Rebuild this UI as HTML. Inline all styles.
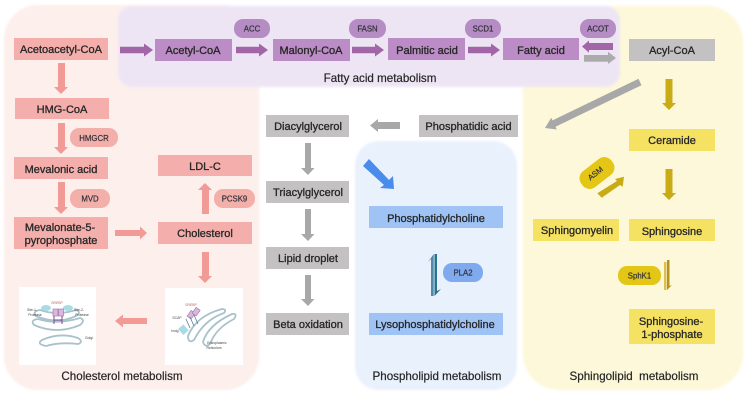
<!DOCTYPE html>
<html><head><meta charset="utf-8"><style>
html,body{margin:0;padding:0;background:#fff;width:750px;height:400px;overflow:hidden}
svg{display:block}
text{font-family:"Liberation Sans",sans-serif;fill:#262626;text-anchor:middle;font-size:11px;stroke:#262626;stroke-width:.3px}
.t{font-size:11.6px;stroke-width:.2px}
.p{font-size:7.8px;fill:#33303a;stroke:#33303a;stroke-width:.2px}
.s{font-size:3.4px;stroke:none;fill:#444}
</style></head><body>
<svg width="750" height="400" viewBox="0 0 750 400" xmlns="http://www.w3.org/2000/svg">
<defs><filter id="b" x="-2%" y="-2%" width="104%" height="104%"><feGaussianBlur stdDeviation="0.35"/></filter>
<filter id="b2" x="-5%" y="-5%" width="110%" height="110%"><feGaussianBlur stdDeviation="1.2"/></filter></defs>
<g filter="url(#b2)">
<rect x="4" y="5" width="255" height="385" rx="34" fill="#fcefec"/>
<rect x="523" y="6" width="220" height="384" rx="36" fill="#fdf8d9"/>
<rect x="355" y="141" width="162" height="249" rx="24" fill="#e9f1fd"/>
<rect x="118" y="6" width="502" height="81" rx="14" fill="#eee5f4"/>
</g>
<g filter="url(#b)">
<!-- pink boxes -->
<g fill="#f4aeab">
<rect x="14" y="38" width="94" height="22"/><rect x="15" y="98" width="94" height="21"/>
<rect x="14" y="157" width="94" height="22"/><rect x="14" y="217" width="94" height="32"/>
<rect x="158" y="155" width="94" height="21"/><rect x="158" y="222" width="94" height="22"/>
</g>
<!-- purple boxes -->
<g fill="#bb8cc6">
<rect x="155" y="39" width="77" height="22"/><rect x="273" y="39" width="77" height="22"/>
<rect x="388" y="38" width="77" height="22"/><rect x="503" y="38" width="76" height="22"/>
</g>
<!-- grey boxes -->
<g fill="#c3c1c2">
<rect x="629" y="39" width="86" height="22"/><rect x="266" y="115" width="83" height="22"/>
<rect x="266" y="181" width="83" height="22"/><rect x="266" y="247" width="83" height="22"/>
<rect x="266" y="313" width="83" height="22"/><rect x="419" y="115" width="99" height="22"/>
</g>
<!-- yellow boxes -->
<g fill="#f6e262">
<rect x="629" y="129" width="86" height="22"/><rect x="533" y="219" width="86" height="22"/>
<rect x="629" y="219" width="86" height="22"/><rect x="629" y="309" width="86" height="35"/>
</g>
<!-- blue boxes -->
<g fill="#9fc3f5">
<rect x="369" y="206" width="134" height="22"/><rect x="369" y="313" width="134" height="22"/>
</g>
<!-- pills -->
<g fill="#b58cc4">
<rect x="234" y="19" width="36" height="19" rx="9"/><rect x="349" y="19" width="37" height="19" rx="9"/>
<rect x="465" y="19" width="36" height="19" rx="9"/><rect x="580" y="19" width="36" height="19" rx="9"/>
</g>
<g fill="#f3b0ab">
<rect x="70" y="128" width="48" height="19" rx="9"/><rect x="70" y="189" width="40" height="19" rx="9"/>
<rect x="214" y="189" width="41" height="19" rx="9"/>
</g>
<rect x="443" y="263" width="40" height="19" rx="9" fill="#7fabee"/>
<rect x="618" y="266" width="43" height="19" rx="9" fill="#e3c615"/>
<rect x="-19" y="-10" width="38" height="20" rx="9" transform="translate(597 173) rotate(-38)" fill="#e3c615"/>
<!-- purple arrows -->
<g fill="#a266a8">
<polygon points="120,46.7 144,46.7 144,43.500 153,50 144,56.500 144,53.300 120,53.300"/>
<polygon points="236,46.700 259,46.700 259,43.500 268,50 259,56.500 259,53.300 236,53.300"/>
<polygon points="352,46.700 375,46.700 375,43.500 384,50 375,56.500 375,53.300 352,53.300"/>
<polygon points="468,46.700 491,46.700 491,43.500 500,50 491,56.500 491,53.300 468,53.300"/>
<polygon points="613,43 589,43 589,40.500 582,46.500 589,52.700 589,50 613,50"/>
</g>
<polygon points="584,55 608,55 608,51.700 616,58 608,64 608,61.700 584,61.700" fill="#ababab"/>
<!-- pink arrows -->
<g fill="#f29a95">
<polygon points="58,63 65,63 65,87 68,87 61,94 54,87 58,87"/>
<polygon points="58,123 65,123 65,147 68,147 61,154 54,147 58,147"/>
<polygon points="58,182 65,182 65,207 68,207 61,214 54,207 58,207"/>
<polygon points="115,230 140,230 140,226.500 147,233 140,239.500 140,236 115,236"/>
<polygon points="202,214 209,214 209,190 212,190 205,183 198,190 202,190"/>
<polygon points="202,252 209,252 209,276 212,276 205,283 198,276 202,276"/>
<polygon points="147,318 123,318 123,314.500 115,321 123,327.500 123,324 147,324"/>
</g>
<!-- grey arrows -->
<g fill="#a9a8a8">
<polygon points="305,143 311,143 311,168 314.500,168 308,175 301,168 305,168"/>
<polygon points="305,209 311,209 311,234 314.500,234 308,241 301,234 305,234"/>
<polygon points="305,275 311,275 311,299 314.500,299 308,306 301,299 305,299"/>
<polygon points="400,122 378,122 378,119 370,125.500 378,132 378,129 400,129"/>
<polygon points="641.500,85.200 638.500,78.800 552.500,120.400 551.200,117.700 545,128 556.800,129.500 555.500,126.800"/>
</g>
<!-- yellow arrows -->
<g fill="#c9ab14">
<polygon points="665.500,79 672.500,79 672.500,103 676,103 669,110 662,103 665.500,103"/>
<polygon points="665.500,169 672.500,169 672.500,193 676,193 669,200 662,193 665.500,193"/>
<polygon points="597.300,193.300 617,181 615,179 624,176.700 622.700,186.700 620,185 601.700,197.700"/>
</g>
<!-- blue arrow -->
<polygon points="363,166 369,159 389,180 393,176 394,189 380,188 384,185" fill="#4a8cec"/>
<!-- PLA2 half arrows -->
<polygon points="431,296 431,259 428,262 433.700,254 433.700,296" fill="#4f8ba8"/>
<polygon points="434.500,296 434.500,254 437,254 437,291 441,289" fill="#2c6f90"/>
<!-- SphK1 half arrows -->
<polygon points="664,290 664,262 666.500,262 666.500,290" fill="#dcbf55"/>
<polygon points="667,260 669.500,260 669.500,286 672,285 667,290" fill="#b8941a"/>
<!-- micro figures -->
<rect x="19" y="287" width="77" height="78" fill="#fff"/>
<rect x="165" y="288" width="78" height="77" fill="#fff"/>
<g fill="none" stroke="#a9c2cc" stroke-width="1.800">
<path d="M34 325 Q57 335 80 325 Q86 320 80 318 Q57 325 38 319 Q30 320 34 325Z"/>
<path d="M36 316 Q57 325 76 316 Q82 312 76 310 Q57 316 40 310 Q32 311 36 316Z"/>
<path d="M42 340 Q60 332 78 338 Q84 342 78 344 Q60 342 46 346 Q36 344 42 340Z"/>
<path d="M203 342 Q208 325 232 314 Q238 313 234 319 Q216 328 210 344 Q205 348 203 342Z"/>
<path d="M188 336 Q196 316 222 309 Q227 309 224 313 Q204 320 194 340 Q188 344 188 336Z"/>
</g>
<g fill="#a9dbe4"><ellipse cx="46" cy="308" rx="5" ry="3"/><ellipse cx="68" cy="308" rx="5" ry="3"/><rect x="180" y="326" width="7" height="8" transform="rotate(-40 183 330)"/></g>
<g fill="#d9b8e0" stroke="#9a6fa8" stroke-width=".6"><rect x="53" y="309" width="5" height="7"/><rect x="58.500" y="309" width="5" height="7"/><rect x="189" y="311" width="5" height="7" transform="rotate(35 191 314)"/><rect x="194" y="308" width="5" height="7" transform="rotate(35 196 311)"/></g>
<path d="M54 316V324M62 316V324M54 320H62" stroke="#7b4a90" stroke-width="1" fill="none"/>
<path d="M186 319l4 9M190 317l4 9M194 315l4 9" stroke="#5a7e92" stroke-width=".8" fill="none"/>
<g>
<text class="s" x="57" y="304" style="fill:#b5685f">SREBP</text>
<text class="s" x="32" y="311">Site-1-</text><text class="s" x="35" y="316">Protease</text>
<text class="s" x="79" y="311">Site-2-</text><text class="s" x="82" y="316">Protease</text>
<text class="s" x="89" y="339">Golgi</text>
<text class="s" x="191" y="306" style="fill:#b5685f">SREBP</text>
<text class="s" x="177" y="319">SCAP</text><text class="s" x="175" y="332">Insig</text>
<text class="s" x="217" y="344">Endoplasmic</text><text class="s" x="214" y="349">Reticulum</text>
</g>
<!-- labels -->
<text x="61" y="53">Acetoacetyl-CoA</text>
<text x="62" y="113">HMG-CoA</text>
<text x="61" y="173">Mevalonic acid</text>
<text x="60" y="231">Mevalonate-5-</text>
<text x="61" y="244">pyrophosphate</text>
<text x="205" y="170">LDL-C</text>
<text x="205" y="237">Cholesterol</text>
<text x="193" y="54">Acetyl-CoA</text>
<text x="311" y="54">Malonyl-CoA</text>
<text x="427" y="54">Palmitic acid</text>
<text x="541" y="54">Fatty acid</text>
<text x="672" y="54">Acyl-CoA</text>
<text x="672" y="144">Ceramide</text>
<text x="577" y="234">Sphingomyelin</text>
<text x="672" y="235">Sphingosine</text>
<text x="671" y="325">Sphingosine-</text>
<text x="672" y="338">1-phosphate</text>
<text x="308" y="130">Diacylglycerol</text>
<text x="308" y="196">Triacylglycerol</text>
<text x="308" y="262">Lipid droplet</text>
<text x="308" y="328">Beta oxidation</text>
<text x="468.500" y="130">Phosphatidic acid</text>
<text x="436" y="222">Phosphatidylcholine</text>
<text x="435" y="328">Lysophosphatidylcholine</text>
<text x="380" y="82" class="t">Fatty acid metabolism</text>
<text x="122" y="380" class="t">Cholesterol metabolism</text>
<text x="437" y="380" class="t">Phospholipid metabolism</text>
<text x="634" y="380" class="t">Sphingolipid&#160; metabolism</text>
<text class="p" x="252" y="31.500">ACC</text>
<text class="p" x="367.500" y="31.500">FASN</text>
<text class="p" x="483" y="31.500">SCD1</text>
<text class="p" x="598" y="31.500">ACOT</text>
<text class="p" x="94" y="141">HMGCR</text>
<text class="p" x="90" y="201.500">MVD</text>
<text class="p" x="234.500" y="201.500">PCSK9</text>
<text class="p" x="463" y="275.500">PLA2</text>
<text class="p" x="639.500" y="278.500">SphK1</text>
<text class="p" transform="translate(597 175.500) rotate(-38)">ASM</text>
</g>
</svg>
</body></html>
